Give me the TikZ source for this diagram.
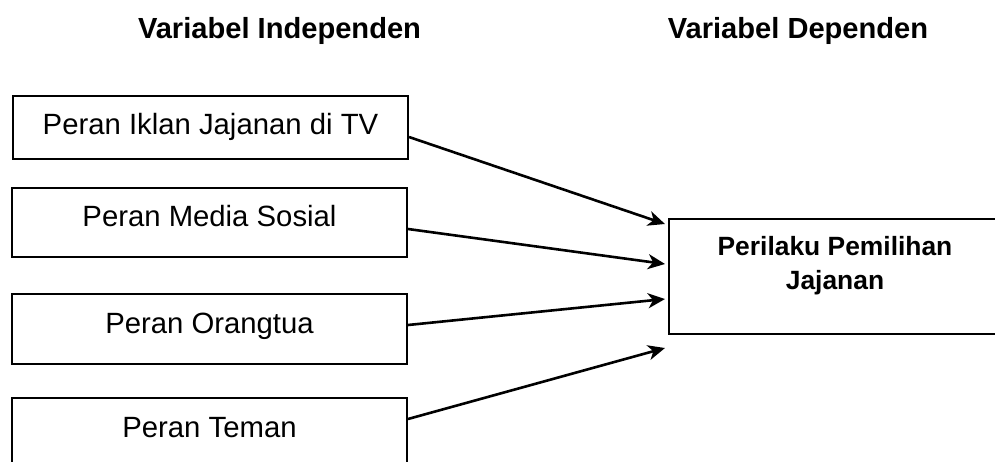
\documentclass[tikz,border=0pt]{standalone}
\usepackage{fontspec}
\setmainfont{Liberation Sans}
\usetikzlibrary{arrows.meta}
\begin{document}
\begin{tikzpicture}[x=1pt,y=-1pt,
  heading/.style={font=\fontsize{29.1}{35}\selectfont\bfseries, anchor=base, inner sep=0pt},
  leftbox/.style={draw, line width=2pt, anchor=north west, minimum width=395pt,
    inner sep=0pt, text height=38pt, font=\fontsize{29.3}{35}\selectfont},
  rbox/.style={draw, line width=2pt, anchor=north west, minimum width=334pt, minimum height=115pt, inner sep=0pt},
  conn/.style={line width=2.6pt, -{Stealth[length=17pt,width=15pt,inset=5pt]}}]
\useasboundingbox (0,0) rectangle (995,461);
\node[heading] (h1) at (279.5,38) {Variabel Independen};
\node[heading] (h2) at (798,38) {Variabel Dependen};
\node[leftbox, text depth=25pt] (b1) at (12,95) {Peran Iklan Jajanan di TV};
\node[leftbox, text depth=31pt] (b2) at (11,187) {Peran Media Sosial};
\node[leftbox, text height=39pt, text depth=31pt] (b3) at (11,293) {Peran Orangtua};
\node[leftbox, text height=39pt, text depth=30pt] (b4) at (11,397) {Peran Teman};
\node[rbox] (r) at (668,218) {};
\node[font=\fontsize{26.4}{34}\selectfont\bfseries, align=center, inner sep=0pt] (rt) at (835,266) {Perilaku Pemilihan\\Jajanan};
\draw[conn] ([yshift=-9.5pt]b1.east) -- ([xshift=-3pt,yshift=52.5pt]r.west);
\draw[conn] ([yshift=-6.5pt]b2.east) -- ([xshift=-3pt,yshift=12.5pt]r.west);
\draw[conn] ([yshift=4pt]b3.east) -- ([xshift=-3pt,yshift=-22.5pt]r.west);
\draw[conn] ([yshift=13.5pt]b4.east) -- ([xshift=-3pt,yshift=-71.5pt]r.west);
\end{tikzpicture}
\end{document}
